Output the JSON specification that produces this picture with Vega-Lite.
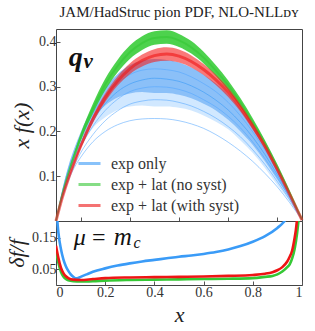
{
  "$schema": "https://vega.github.io/schema/vega-lite/v6.json",
  "padding": {"left": 5, "top": 4, "right": 10, "bottom": 0},
  "background": "white",
  "spacing": 0,
  "bounds": "flush",
  "datasets": {
    "top": [
      {"x": 0, "b_lo": 0, "b_mid": 0, "b_hi": 0, "lmin": 0, "l1": 0, "l2": 0, "l3": 0, "l4": 0, "g_lo": 0, "g_hi": 0, "g_c": 0, "r_lo": 0, "r_hi": 0, "r_c": 0},
      {"x": 0.025, "b_lo": 0.058, "b_mid": 0.062, "b_hi": 0.068, "lmin": 0.05, "l1": 0.064, "l2": 0.06, "l3": 0.057, "l4": 0.053, "g_lo": 0.055, "g_hi": 0.062, "g_c": 0.0585, "r_lo": 0.048, "r_hi": 0.054, "r_c": 0.051},
      {"x": 0.05, "b_lo": 0.105, "b_mid": 0.112, "b_hi": 0.122, "lmin": 0.09, "l1": 0.115, "l2": 0.107, "l3": 0.102, "l4": 0.095, "g_lo": 0.1, "g_hi": 0.112, "g_c": 0.106, "r_lo": 0.09, "r_hi": 0.098, "r_c": 0.094},
      {"x": 0.075, "b_lo": 0.138, "b_mid": 0.148, "b_hi": 0.163, "lmin": 0.12, "l1": 0.153, "l2": 0.143, "l3": 0.136, "l4": 0.125, "g_lo": 0.14, "g_hi": 0.155, "g_c": 0.1475, "r_lo": 0.127, "r_hi": 0.137, "r_c": 0.132},
      {"x": 0.1, "b_lo": 0.165, "b_mid": 0.178, "b_hi": 0.198, "lmin": 0.142, "l1": 0.186, "l2": 0.174, "l3": 0.165, "l4": 0.152, "g_lo": 0.178, "g_hi": 0.195, "g_c": 0.1865, "r_lo": 0.161, "r_hi": 0.173, "r_c": 0.167},
      {"x": 0.15, "b_lo": 0.208, "b_mid": 0.228, "b_hi": 0.255, "lmin": 0.177, "l1": 0.24, "l2": 0.224, "l3": 0.212, "l4": 0.193, "g_lo": 0.24, "g_hi": 0.262, "g_c": 0.251, "r_lo": 0.219, "r_hi": 0.235, "r_c": 0.227},
      {"x": 0.2, "b_lo": 0.232, "b_mid": 0.258, "b_hi": 0.298, "lmin": 0.2, "l1": 0.28, "l2": 0.262, "l3": 0.247, "l4": 0.224, "g_lo": 0.292, "g_hi": 0.318, "g_c": 0.305, "r_lo": 0.266, "r_hi": 0.285, "r_c": 0.2755},
      {"x": 0.25, "b_lo": 0.248, "b_mid": 0.276, "b_hi": 0.328, "lmin": 0.215, "l1": 0.308, "l2": 0.289, "l3": 0.272, "l4": 0.246, "g_lo": 0.332, "g_hi": 0.36, "g_c": 0.346, "r_lo": 0.302, "r_hi": 0.323, "r_c": 0.3125},
      {"x": 0.3, "b_lo": 0.256, "b_mid": 0.285, "b_hi": 0.348, "lmin": 0.224, "l1": 0.327, "l2": 0.306, "l3": 0.289, "l4": 0.261, "g_lo": 0.362, "g_hi": 0.392, "g_c": 0.377, "r_lo": 0.328, "r_hi": 0.352, "r_c": 0.34},
      {"x": 0.35, "b_lo": 0.258, "b_mid": 0.288, "b_hi": 0.358, "lmin": 0.228, "l1": 0.337, "l2": 0.315, "l3": 0.297, "l4": 0.268, "g_lo": 0.382, "g_hi": 0.413, "g_c": 0.3975, "r_lo": 0.345, "r_hi": 0.372, "r_c": 0.3585},
      {"x": 0.4, "b_lo": 0.256, "b_mid": 0.286, "b_hi": 0.362, "lmin": 0.229, "l1": 0.34, "l2": 0.319, "l3": 0.3, "l4": 0.271, "g_lo": 0.394, "g_hi": 0.424, "g_c": 0.409, "r_lo": 0.355, "r_hi": 0.384, "r_c": 0.3695},
      {"x": 0.45, "b_lo": 0.256, "b_mid": 0.286, "b_hi": 0.36, "lmin": 0.228, "l1": 0.338, "l2": 0.317, "l3": 0.299, "l4": 0.27, "g_lo": 0.396, "g_hi": 0.426, "g_c": 0.411, "r_lo": 0.358, "r_hi": 0.388, "r_c": 0.373},
      {"x": 0.5, "b_lo": 0.253, "b_mid": 0.282, "b_hi": 0.354, "lmin": 0.224, "l1": 0.333, "l2": 0.312, "l3": 0.294, "l4": 0.265, "g_lo": 0.389, "g_hi": 0.418, "g_c": 0.4035, "r_lo": 0.354, "r_hi": 0.383, "r_c": 0.3685},
      {"x": 0.55, "b_lo": 0.247, "b_mid": 0.274, "b_hi": 0.343, "lmin": 0.217, "l1": 0.322, "l2": 0.302, "l3": 0.285, "l4": 0.257, "g_lo": 0.374, "g_hi": 0.402, "g_c": 0.388, "r_lo": 0.343, "r_hi": 0.37, "r_c": 0.3565},
      {"x": 0.6, "b_lo": 0.236, "b_mid": 0.262, "b_hi": 0.327, "lmin": 0.207, "l1": 0.307, "l2": 0.288, "l3": 0.271, "l4": 0.245, "g_lo": 0.352, "g_hi": 0.378, "g_c": 0.365, "r_lo": 0.326, "r_hi": 0.351, "r_c": 0.3385},
      {"x": 0.65, "b_lo": 0.222, "b_mid": 0.247, "b_hi": 0.307, "lmin": 0.193, "l1": 0.289, "l2": 0.27, "l3": 0.255, "l4": 0.23, "g_lo": 0.324, "g_hi": 0.348, "g_c": 0.336, "r_lo": 0.304, "r_hi": 0.327, "r_c": 0.3155},
      {"x": 0.7, "b_lo": 0.205, "b_mid": 0.226, "b_hi": 0.282, "lmin": 0.176, "l1": 0.265, "l2": 0.248, "l3": 0.234, "l4": 0.211, "g_lo": 0.292, "g_hi": 0.314, "g_c": 0.303, "r_lo": 0.277, "r_hi": 0.298, "r_c": 0.2875},
      {"x": 0.75, "b_lo": 0.18, "b_mid": 0.2, "b_hi": 0.25, "lmin": 0.156, "l1": 0.235, "l2": 0.22, "l3": 0.208, "l4": 0.188, "g_lo": 0.254, "g_hi": 0.274, "g_c": 0.264, "r_lo": 0.244, "r_hi": 0.262, "r_c": 0.253},
      {"x": 0.8, "b_lo": 0.152, "b_mid": 0.17, "b_hi": 0.212, "lmin": 0.133, "l1": 0.199, "l2": 0.187, "l3": 0.176, "l4": 0.159, "g_lo": 0.212, "g_hi": 0.229, "g_c": 0.2205, "r_lo": 0.204, "r_hi": 0.22, "r_c": 0.212},
      {"x": 0.85, "b_lo": 0.118, "b_mid": 0.133, "b_hi": 0.168, "lmin": 0.106, "l1": 0.158, "l2": 0.148, "l3": 0.139, "l4": 0.126, "g_lo": 0.166, "g_hi": 0.18, "g_c": 0.173, "r_lo": 0.16, "r_hi": 0.173, "r_c": 0.1665},
      {"x": 0.9, "b_lo": 0.08, "b_mid": 0.092, "b_hi": 0.117, "lmin": 0.076, "l1": 0.11, "l2": 0.103, "l3": 0.097, "l4": 0.088, "g_lo": 0.115, "g_hi": 0.126, "g_c": 0.1205, "r_lo": 0.109, "r_hi": 0.12, "r_c": 0.1145},
      {"x": 0.95, "b_lo": 0.044, "b_mid": 0.05, "b_hi": 0.062, "lmin": 0.041, "l1": 0.058, "l2": 0.055, "l3": 0.051, "l4": 0.047, "g_lo": 0.06, "g_hi": 0.067, "g_c": 0.0635, "r_lo": 0.056, "r_hi": 0.063, "r_c": 0.0595},
      {"x": 1, "b_lo": 0.002, "b_mid": 0.003, "b_hi": 0.004, "lmin": 0.002, "l1": 0.004, "l2": 0.003, "l3": 0.003, "l4": 0.003, "g_lo": 0.002, "g_hi": 0.004, "g_c": 0.003, "r_lo": 0.001, "r_hi": 0.003, "r_c": 0.002}
    ],
    "bot": [
      {"s": "b", "x": 0, "v": 0.3}, {"s": "b", "x": 0.005, "v": 0.21}, {"s": "b", "x": 0.01, "v": 0.165}, {"s": "b", "x": 0.02, "v": 0.115},
      {"s": "b", "x": 0.03, "v": 0.082}, {"s": "b", "x": 0.04, "v": 0.06}, {"s": "b", "x": 0.05, "v": 0.045}, {"s": "b", "x": 0.06, "v": 0.034},
      {"s": "b", "x": 0.07, "v": 0.026}, {"s": "b", "x": 0.08, "v": 0.0215}, {"s": "b", "x": 0.09, "v": 0.0225}, {"s": "b", "x": 0.1, "v": 0.026},
      {"s": "b", "x": 0.125, "v": 0.034}, {"s": "b", "x": 0.15, "v": 0.042}, {"s": "b", "x": 0.2, "v": 0.053}, {"s": "b", "x": 0.25, "v": 0.062},
      {"s": "b", "x": 0.3, "v": 0.069}, {"s": "b", "x": 0.35, "v": 0.075}, {"s": "b", "x": 0.4, "v": 0.08}, {"s": "b", "x": 0.45, "v": 0.085},
      {"s": "b", "x": 0.5, "v": 0.09}, {"s": "b", "x": 0.55, "v": 0.094}, {"s": "b", "x": 0.6, "v": 0.099}, {"s": "b", "x": 0.65, "v": 0.105},
      {"s": "b", "x": 0.7, "v": 0.113}, {"s": "b", "x": 0.75, "v": 0.124}, {"s": "b", "x": 0.8, "v": 0.138}, {"s": "b", "x": 0.85, "v": 0.156},
      {"s": "b", "x": 0.9, "v": 0.182}, {"s": "b", "x": 0.925, "v": 0.2}, {"s": "b", "x": 0.95, "v": 0.23},
      {"s": "g", "x": 0, "v": 0.11}, {"s": "g", "x": 0.01, "v": 0.07}, {"s": "g", "x": 0.02, "v": 0.042}, {"s": "g", "x": 0.03, "v": 0.027},
      {"s": "g", "x": 0.04, "v": 0.019}, {"s": "g", "x": 0.05, "v": 0.015}, {"s": "g", "x": 0.07, "v": 0.012}, {"s": "g", "x": 0.1, "v": 0.011},
      {"s": "g", "x": 0.15, "v": 0.012}, {"s": "g", "x": 0.2, "v": 0.014}, {"s": "g", "x": 0.3, "v": 0.016}, {"s": "g", "x": 0.4, "v": 0.017},
      {"s": "g", "x": 0.5, "v": 0.018}, {"s": "g", "x": 0.6, "v": 0.019}, {"s": "g", "x": 0.7, "v": 0.02}, {"s": "g", "x": 0.8, "v": 0.022},
      {"s": "g", "x": 0.85, "v": 0.026}, {"s": "g", "x": 0.88, "v": 0.029}, {"s": "g", "x": 0.9, "v": 0.034}, {"s": "g", "x": 0.92, "v": 0.043},
      {"s": "g", "x": 0.94, "v": 0.057}, {"s": "g", "x": 0.95, "v": 0.066}, {"s": "g", "x": 0.96, "v": 0.085}, {"s": "g", "x": 0.97, "v": 0.115},
      {"s": "g", "x": 0.98, "v": 0.165}, {"s": "g", "x": 0.985, "v": 0.2}, {"s": "g", "x": 0.99, "v": 0.24},
      {"s": "r", "x": 0, "v": 0.125}, {"s": "r", "x": 0.01, "v": 0.085}, {"s": "r", "x": 0.02, "v": 0.055}, {"s": "r", "x": 0.03, "v": 0.038},
      {"s": "r", "x": 0.04, "v": 0.028}, {"s": "r", "x": 0.05, "v": 0.022}, {"s": "r", "x": 0.07, "v": 0.017}, {"s": "r", "x": 0.1, "v": 0.016},
      {"s": "r", "x": 0.15, "v": 0.019}, {"s": "r", "x": 0.2, "v": 0.022}, {"s": "r", "x": 0.3, "v": 0.024}, {"s": "r", "x": 0.4, "v": 0.025},
      {"s": "r", "x": 0.5, "v": 0.026}, {"s": "r", "x": 0.6, "v": 0.027}, {"s": "r", "x": 0.7, "v": 0.029}, {"s": "r", "x": 0.8, "v": 0.032},
      {"s": "r", "x": 0.85, "v": 0.036}, {"s": "r", "x": 0.88, "v": 0.041}, {"s": "r", "x": 0.9, "v": 0.047}, {"s": "r", "x": 0.92, "v": 0.057},
      {"s": "r", "x": 0.94, "v": 0.075}, {"s": "r", "x": 0.95, "v": 0.09}, {"s": "r", "x": 0.96, "v": 0.11}, {"s": "r", "x": 0.97, "v": 0.15},
      {"s": "r", "x": 0.975, "v": 0.175}, {"s": "r", "x": 0.98, "v": 0.21}
    ]
  },
  "resolve": {"scale": {"color": "independent", "opacity": "independent"}, "legend": {"color": "independent"}},
  "vconcat": [
    {
      "width": 246,
      "height": 192,
      "title": {"text": "JAM/HadStruc pion PDF, NLO-NLLᴅʏ", "fontSize": 15, "font": "Liberation Serif, serif", "fontWeight": "normal", "frame": "group", "anchor": "middle", "offset": 9, "color": "#222"},
      "layer": [
        {"data": {"name": "top"}, "mark": {"type": "area", "color": "#5aacff", "opacity": 0.28, "interpolate": "monotone"},
          "encoding": {
            "x": {"field": "x", "type": "quantitative", "scale": {"domain": [0, 1], "nice": false},
              "axis": {"title": null, "labels": false, "values": [0.1, 0.2, 0.3, 0.4, 0.5, 0.6, 0.7, 0.8, 0.9]}},
            "y": {"field": "b_lo", "type": "quantitative", "title": "x f(x)", "scale": {"domain": [0, 0.429], "nice": false},
              "axis": {"values": [0.1, 0.2, 0.3, 0.4], "format": ".1f", "titlePadding": 5}},
            "y2": {"field": "b_hi"}}},
        {"data": {"name": "top"}, "mark": {"type": "area", "color": "#4a9cf2", "opacity": 0.52, "interpolate": "monotone"},
          "encoding": {"x": {"field": "x", "type": "quantitative"}, "y": {"field": "b_mid", "type": "quantitative", "title": "x f(x)"}, "y2": {"field": "b_hi"}}},
        {"data": {"name": "top"}, "transform": [{"fold": ["lmin", "l1", "l3", "l4"], "as": ["s", "v"]}],
          "mark": {"type": "line", "color": "#4ea4ff", "strokeWidth": 0.9, "opacity": 0.6, "interpolate": "monotone"},
          "encoding": {"x": {"field": "x", "type": "quantitative"}, "y": {"field": "v", "type": "quantitative", "title": "x f(x)"}, "detail": {"field": "s"}}},
        {"data": {"name": "top"}, "mark": {"type": "area", "color": "#34cc34", "opacity": 0.88, "interpolate": "monotone"},
          "encoding": {"x": {"field": "x", "type": "quantitative"}, "y": {"field": "g_lo", "type": "quantitative", "title": "x f(x)"}, "y2": {"field": "g_hi"}}},
        {"data": {"name": "top"}, "mark": {"type": "area", "color": "#f52020", "opacity": 0.6, "interpolate": "monotone"},
          "encoding": {"x": {"field": "x", "type": "quantitative"}, "y": {"field": "r_lo", "type": "quantitative", "title": "x f(x)"}, "y2": {"field": "r_hi"}}},
        {"data": {"name": "top"}, "transform": [{"fold": ["l2", "g_c", "r_c"], "as": ["s", "v"]}],
          "mark": {"type": "line", "interpolate": "monotone"},
          "encoding": {
            "x": {"field": "x", "type": "quantitative"},
            "y": {"field": "v", "type": "quantitative", "title": "x f(x)"},
            "color": {"field": "s", "type": "nominal", "scale": {"domain": ["l2", "g_c", "r_c"], "range": ["#3a9bf7", "#35c835", "#ee1515"]},
              "legend": {"orient": "none", "legendX": 21, "legendY": 122, "padding": 0, "title": null, "symbolType": "stroke", "symbolSize": 484, "symbolStrokeWidth": 3, "symbolOpacity": 1,
                "labelFontSize": 16, "labelFont": "Liberation Serif, serif", "labelColor": "#333", "labelOffset": 9, "rowPadding": 0,
                "encode": {"symbols": {"update": {"strokeWidth": {"value": 3}, "opacity": {"value": 1}}}},
                "labelExpr": "datum.value == 'l2' ? 'exp only' : datum.value == 'g_c' ? 'exp + lat (no syst)' : 'exp + lat (with syst)'"}},
            "strokeWidth": {"field": "s", "type": "nominal", "scale": {"domain": ["l2", "g_c", "r_c"], "range": [1, 3, 7]}, "legend": null},
            "opacity": {"field": "s", "type": "nominal", "scale": {"domain": ["l2", "g_c", "r_c"], "range": [0.6, 0.6, 0.9]}, "legend": null}}},
        {"data": {"values": [{"t": "q"}]}, "mark": {"type": "text", "fontSize": 28, "fontStyle": "italic", "fontWeight": "bold", "align": "left", "baseline": "alphabetic", "color": "#111", "font": "Liberation Serif, serif"},
          "encoding": {"text": {"field": "t"}, "x": {"datum": 0.052}, "y": {"datum": 0.346}}},
        {"data": {"values": [{"t": "v"}]}, "mark": {"type": "text", "fontSize": 21, "fontStyle": "italic", "fontWeight": "bold", "align": "left", "baseline": "alphabetic", "color": "#111", "font": "Liberation Serif, serif"},
          "encoding": {"text": {"field": "t"}, "x": {"datum": 0.112}, "y": {"datum": 0.341}}}
      ]
    },
    {
      "width": 246,
      "height": 64,
      "layer": [
        {"data": {"name": "bot"}, "mark": {"type": "line", "strokeWidth": 2.6, "interpolate": "monotone", "clip": true},
          "encoding": {
            "x": {"field": "x", "type": "quantitative", "title": "x", "scale": {"domain": [0, 1], "nice": false},
              "axis": {"values": [0, 0.1, 0.2, 0.3, 0.4, 0.5, 0.6, 0.7, 0.8, 0.9, 1], "labelExpr": "round(datum.value*10) % 2 == 0 ? (datum.value == 0 ? '0' : datum.value == 1 ? '1' : format(datum.value, '.1f')) : ''", "labelOverlap": false, "titlePadding": 5}},
            "y": {"field": "v", "type": "quantitative", "title": "δf/f", "scale": {"domain": [0, 0.204], "nice": false},
              "axis": {"values": [0.05, 0.15], "format": ".2f", "titlePadding": 3}},
            "color": {"field": "s", "type": "nominal", "scale": {"domain": ["b", "g", "r"], "range": ["#3a9bf7", "#35c835", "#ee1515"]}, "legend": null}}},
        {"data": {"values": [{"t": "μ"}]}, "mark": {"type": "text", "fontSize": 24, "fontStyle": "italic", "align": "left", "baseline": "alphabetic", "color": "#111", "font": "Liberation Serif, serif"},
          "encoding": {"text": {"field": "t"}, "x": {"datum": 0.072}, "y": {"datum": 0.129}}},
        {"data": {"values": [{"t": "="}]}, "mark": {"type": "text", "fontSize": 24, "align": "left", "baseline": "alphabetic", "color": "#111", "font": "Liberation Serif, serif"},
          "encoding": {"text": {"field": "t"}, "x": {"datum": 0.146}, "y": {"datum": 0.129}}},
        {"data": {"values": [{"t": "m"}]}, "mark": {"type": "text", "fontSize": 25, "fontStyle": "italic", "align": "left", "baseline": "alphabetic", "color": "#111", "font": "Liberation Serif, serif"},
          "encoding": {"text": {"field": "t"}, "x": {"datum": 0.235}, "y": {"datum": 0.129}}},
        {"data": {"values": [{"t": "c"}]}, "mark": {"type": "text", "fontSize": 16, "fontStyle": "italic", "align": "left", "baseline": "alphabetic", "color": "#111", "font": "Liberation Serif, serif"},
          "encoding": {"text": {"field": "t"}, "x": {"datum": 0.315}, "y": {"datum": 0.118}}}
      ]
    }
  ],
  "config": {
    "font": "Liberation Serif, serif",
    "view": {"stroke": "#444", "strokeWidth": 1},
    "axis": {"labelFont": "Liberation Serif, serif", "labelFontSize": 14, "labelColor": "#333", "titleFont": "Liberation Serif, serif", "titleFontStyle": "italic", "titleFontWeight": "normal", "titleFontSize": 22, "titleColor": "#222", "tickColor": "#555", "domain": false, "grid": false, "tickSize": -4, "labelPadding": 4}
  }
}
